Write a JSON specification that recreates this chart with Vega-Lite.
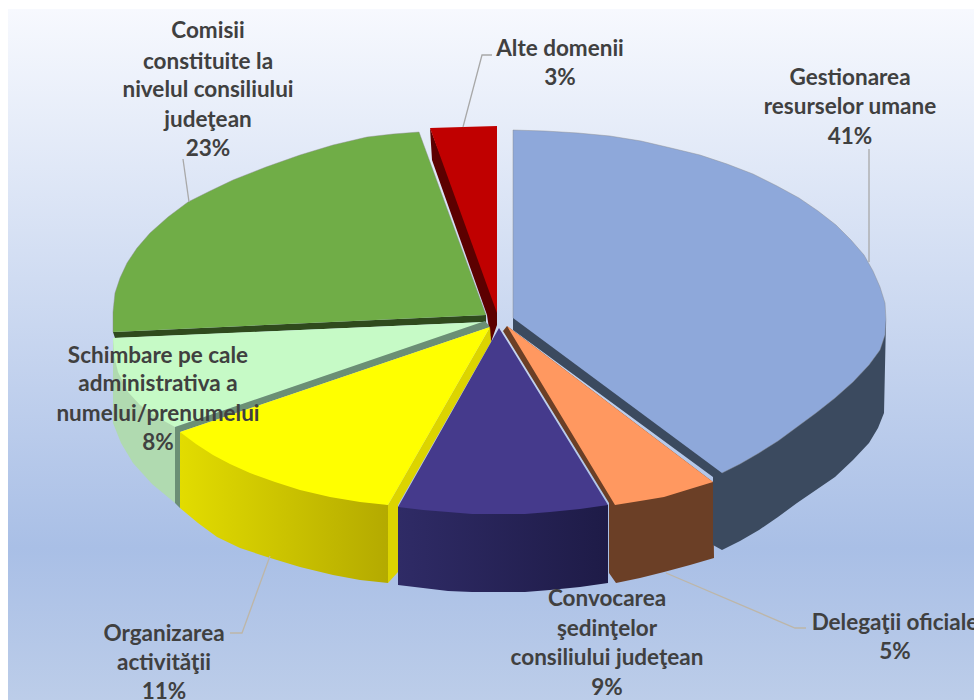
{"$schema":"https://vega.github.io/schema/vega-lite/v6.json","width":966,"height":691,"autosize":"none","padding":{"left":8,"top":9,"right":0,"bottom":0},"background":"white","view":{"stroke":null,"fill":{"gradient":"linear","x1":0,"y1":0,"x2":0,"y2":1,"stops":[{"offset":0,"color":"#f7f9fe"},{"offset":0.78,"color":"#a9bfe6"},{"offset":1,"color":"#bccde9"}]}},
"datasets":{"faces":[
{"part":"Alte side","i":1,"x":430,"y":128},{"part":"Alte side","i":2,"x":432,"y":160},{"part":"Alte side","i":3,"x":487,"y":315},{"part":"Alte side","i":4,"x":491,"y":342},{"part":"Alte side","i":5,"x":497,"y":325},{"part":"Alte side","i":6,"x":497,"y":300},
{"part":"Alte top","i":1,"x":430,"y":128},{"part":"Alte top","i":2,"x":463,"y":127},{"part":"Alte top","i":3,"x":497,"y":126},{"part":"Alte top","i":4,"x":497,"y":313},
{"part":"Comisii strip","i":1,"x":113,"y":332},{"part":"Comisii strip","i":2,"x":486,"y":315},{"part":"Comisii strip","i":3,"x":486,"y":322},{"part":"Comisii strip","i":4,"x":115,"y":338},
{"part":"Comisii top","i":1,"x":486,"y":315},{"part":"Comisii top","i":2,"x":419,"y":132},{"part":"Comisii top","i":3,"x":393,"y":134},{"part":"Comisii top","i":4,"x":367,"y":137},{"part":"Comisii top","i":5,"x":333,"y":145},{"part":"Comisii top","i":6,"x":300,"y":155},{"part":"Comisii top","i":7,"x":266,"y":167},{"part":"Comisii top","i":8,"x":233,"y":180},{"part":"Comisii top","i":9,"x":210,"y":191},{"part":"Comisii top","i":10,"x":188,"y":202},{"part":"Comisii top","i":11,"x":168,"y":217},{"part":"Comisii top","i":12,"x":150,"y":233},{"part":"Comisii top","i":13,"x":137,"y":248},{"part":"Comisii top","i":14,"x":127,"y":263},{"part":"Comisii top","i":15,"x":120,"y":278},{"part":"Comisii top","i":16,"x":115,"y":293},{"part":"Comisii top","i":17,"x":113,"y":312},{"part":"Comisii top","i":18,"x":113,"y":332},
{"part":"Schimbare side","i":1,"x":113,"y":338},{"part":"Schimbare side","i":2,"x":113,"y":423},{"part":"Schimbare side","i":3,"x":121,"y":443},{"part":"Schimbare side","i":4,"x":133,"y":463},{"part":"Schimbare side","i":5,"x":152,"y":484},{"part":"Schimbare side","i":6,"x":175,"y":503},{"part":"Schimbare side","i":7,"x":175,"y":427},
{"part":"Schimbare top","i":1,"x":485,"y":322},{"part":"Schimbare top","i":2,"x":113,"y":338},{"part":"Schimbare top","i":3,"x":114,"y":355},{"part":"Schimbare top","i":4,"x":118,"y":372},{"part":"Schimbare top","i":5,"x":128,"y":392},{"part":"Schimbare top","i":6,"x":140,"y":405},{"part":"Schimbare top","i":7,"x":157,"y":417},{"part":"Schimbare top","i":8,"x":175,"y":427},
{"part":"Schimbare strip","i":1,"x":485,"y":321},{"part":"Schimbare strip","i":2,"x":175,"y":427},{"part":"Schimbare strip","i":3,"x":175,"y":503},{"part":"Schimbare strip","i":4,"x":180,"y":508},{"part":"Schimbare strip","i":5,"x":180,"y":432},{"part":"Schimbare strip","i":6,"x":490,"y":327},
{"part":"Organizarea side","i":1,"x":180,"y":432},{"part":"Organizarea side","i":2,"x":180,"y":508},{"part":"Organizarea side","i":3,"x":198,"y":523},{"part":"Organizarea side","i":4,"x":217,"y":537},{"part":"Organizarea side","i":5,"x":240,"y":548},{"part":"Organizarea side","i":6,"x":267,"y":557},{"part":"Organizarea side","i":7,"x":300,"y":567},{"part":"Organizarea side","i":8,"x":333,"y":575},{"part":"Organizarea side","i":9,"x":360,"y":580},{"part":"Organizarea side","i":10,"x":388,"y":583},{"part":"Organizarea side","i":11,"x":388,"y":505},
{"part":"Organizarea strip","i":1,"x":490,"y":327},{"part":"Organizarea strip","i":2,"x":491,"y":342},{"part":"Organizarea strip","i":3,"x":398,"y":505},{"part":"Organizarea strip","i":4,"x":398,"y":572},{"part":"Organizarea strip","i":5,"x":388,"y":583},{"part":"Organizarea strip","i":6,"x":388,"y":505},
{"part":"Organizarea top","i":1,"x":490,"y":327},{"part":"Organizarea top","i":2,"x":180,"y":432},{"part":"Organizarea top","i":3,"x":196,"y":444},{"part":"Organizarea top","i":4,"x":213,"y":455},{"part":"Organizarea top","i":5,"x":230,"y":464},{"part":"Organizarea top","i":6,"x":250,"y":473},{"part":"Organizarea top","i":7,"x":275,"y":482},{"part":"Organizarea top","i":8,"x":300,"y":490},{"part":"Organizarea top","i":9,"x":330,"y":497},{"part":"Organizarea top","i":10,"x":360,"y":502},{"part":"Organizarea top","i":11,"x":388,"y":505},
{"part":"Convocarea side","i":1,"x":398,"y":507},{"part":"Convocarea side","i":2,"x":398,"y":585},{"part":"Convocarea side","i":3,"x":423,"y":588},{"part":"Convocarea side","i":4,"x":448,"y":591},{"part":"Convocarea side","i":5,"x":472,"y":592},{"part":"Convocarea side","i":6,"x":497,"y":592},{"part":"Convocarea side","i":7,"x":525,"y":592},{"part":"Convocarea side","i":8,"x":550,"y":590},{"part":"Convocarea side","i":9,"x":580,"y":587},{"part":"Convocarea side","i":10,"x":608,"y":583},{"part":"Convocarea side","i":11,"x":608,"y":505},
{"part":"Convocarea top","i":1,"x":499,"y":328},{"part":"Convocarea top","i":2,"x":398,"y":507},{"part":"Convocarea top","i":3,"x":423,"y":510},{"part":"Convocarea top","i":4,"x":448,"y":512},{"part":"Convocarea top","i":5,"x":472,"y":514},{"part":"Convocarea top","i":6,"x":497,"y":514},{"part":"Convocarea top","i":7,"x":525,"y":514},{"part":"Convocarea top","i":8,"x":550,"y":512},{"part":"Convocarea top","i":9,"x":580,"y":509},{"part":"Convocarea top","i":10,"x":608,"y":505},
{"part":"Delegatii side","i":1,"x":503,"y":331},{"part":"Delegatii side","i":2,"x":609,"y":503},{"part":"Delegatii side","i":3,"x":609,"y":573},{"part":"Delegatii side","i":4,"x":616,"y":583},{"part":"Delegatii side","i":5,"x":640,"y":578},{"part":"Delegatii side","i":6,"x":664,"y":572},{"part":"Delegatii side","i":7,"x":690,"y":565},{"part":"Delegatii side","i":8,"x":714,"y":558},{"part":"Delegatii side","i":9,"x":713,"y":482},{"part":"Delegatii side","i":10,"x":507,"y":326},
{"part":"Delegatii top","i":1,"x":507,"y":326},{"part":"Delegatii top","i":2,"x":615,"y":505},{"part":"Delegatii top","i":3,"x":640,"y":501},{"part":"Delegatii top","i":4,"x":664,"y":497},{"part":"Delegatii top","i":5,"x":690,"y":489},{"part":"Delegatii top","i":6,"x":713,"y":482},
{"part":"Gestionarea side","i":1,"x":513,"y":318},{"part":"Gestionarea side","i":2,"x":513,"y":330},{"part":"Gestionarea side","i":3,"x":713,"y":477},{"part":"Gestionarea side","i":4,"x":713,"y":545},{"part":"Gestionarea side","i":5,"x":722,"y":550},{"part":"Gestionarea side","i":6,"x":740,"y":541},{"part":"Gestionarea side","i":7,"x":759,"y":530},{"part":"Gestionarea side","i":8,"x":778,"y":517},{"part":"Gestionarea side","i":9,"x":797,"y":503},{"part":"Gestionarea side","i":10,"x":816,"y":490},{"part":"Gestionarea side","i":11,"x":835,"y":477},{"part":"Gestionarea side","i":12,"x":853,"y":460},{"part":"Gestionarea side","i":13,"x":869,"y":443},{"part":"Gestionarea side","i":14,"x":878,"y":428},{"part":"Gestionarea side","i":15,"x":884,"y":413},{"part":"Gestionarea side","i":16,"x":886,"y":320},
{"part":"Gestionarea top","i":1,"x":513,"y":318},{"part":"Gestionarea top","i":2,"x":513,"y":130},{"part":"Gestionarea top","i":3,"x":545,"y":131},{"part":"Gestionarea top","i":4,"x":578,"y":133},{"part":"Gestionarea top","i":5,"x":610,"y":136},{"part":"Gestionarea top","i":6,"x":641,"y":141},{"part":"Gestionarea top","i":7,"x":671,"y":148},{"part":"Gestionarea top","i":8,"x":700,"y":155},{"part":"Gestionarea top","i":9,"x":727,"y":164},{"part":"Gestionarea top","i":10,"x":753,"y":174},{"part":"Gestionarea top","i":11,"x":777,"y":186},{"part":"Gestionarea top","i":12,"x":799,"y":198},{"part":"Gestionarea top","i":13,"x":818,"y":211},{"part":"Gestionarea top","i":14,"x":836,"y":225},{"part":"Gestionarea top","i":15,"x":851,"y":240},{"part":"Gestionarea top","i":16,"x":864,"y":255},{"part":"Gestionarea top","i":17,"x":873,"y":271},{"part":"Gestionarea top","i":18,"x":880,"y":287},{"part":"Gestionarea top","i":19,"x":885,"y":303},{"part":"Gestionarea top","i":20,"x":886,"y":320},{"part":"Gestionarea top","i":21,"x":885,"y":335},{"part":"Gestionarea top","i":22,"x":880,"y":350},{"part":"Gestionarea top","i":23,"x":869,"y":365},{"part":"Gestionarea top","i":24,"x":853,"y":382},{"part":"Gestionarea top","i":25,"x":835,"y":398},{"part":"Gestionarea top","i":26,"x":816,"y":413},{"part":"Gestionarea top","i":27,"x":797,"y":427},{"part":"Gestionarea top","i":28,"x":778,"y":441},{"part":"Gestionarea top","i":29,"x":759,"y":453},{"part":"Gestionarea top","i":30,"x":740,"y":464},{"part":"Gestionarea top","i":31,"x":722,"y":473}
],
"leaders":[
{"to":"Alte domenii","i":1,"x":463,"y":127},{"to":"Alte domenii","i":2,"x":482,"y":55},{"to":"Alte domenii","i":3,"x":492,"y":55},
{"to":"Gestionarea","i":1,"x":869,"y":149},{"to":"Gestionarea","i":2,"x":869,"y":262},
{"to":"Comisii","i":1,"x":183,"y":159},{"to":"Comisii","i":2,"x":189,"y":202},
{"to":"Organizarea","i":1,"x":270,"y":556},{"to":"Organizarea","i":2,"x":242,"y":633},{"to":"Organizarea","i":3,"x":230,"y":633},
{"to":"Delegatii","i":1,"x":666,"y":573},{"to":"Delegatii","i":2,"x":795,"y":628},{"to":"Delegatii","i":3,"x":806,"y":628}
],
"labels":[
{"t":"Comisii","x":208,"y":31},{"t":"constituite la","x":208,"y":62},{"t":"nivelul consiliului","x":208,"y":90},{"t":"judeţean","x":208,"y":120},{"t":"23%","x":208,"y":149},
{"t":"Alte domenii","x":560,"y":49},{"t":"3%","x":560,"y":78},
{"t":"Gestionarea","x":850,"y":78},{"t":"resurselor umane","x":850,"y":107},{"t":"41%","x":850,"y":137},
{"t":"Schimbare pe cale","x":158,"y":356},{"t":"administrativa a","x":158,"y":384},{"t":"numelui/prenumelui","x":158,"y":414},{"t":"8%","x":158,"y":443},
{"t":"Organizarea","x":164,"y":634},{"t":"activităţii","x":164,"y":663},{"t":"11%","x":164,"y":692},
{"t":"Convocarea","x":607,"y":599},{"t":"şedinţelor","x":607,"y":629},{"t":"consiliului judeţean","x":607,"y":658},{"t":"9%","x":607,"y":688},
{"t":"Delegaţii oficiale","x":895,"y":623},{"t":"5%","x":895,"y":652}
]},
"data":{"name":"faces"},
"encoding":{"x":{"field":"x","type":"quantitative","axis":null,"scale":{"domain":[8,974],"nice":false,"zero":false}},"y":{"field":"y","type":"quantitative","axis":null,"scale":{"domain":[700,9],"nice":false,"zero":false}}},
"layer":[
{"transform":[{"filter":{"field":"part","oneOf":["Alte side","Alte top","Comisii strip","Schimbare side","Schimbare top","Schimbare strip"]}}],"mark":{"type":"line","filled":true,"strokeWidth":0},"encoding":{"order":{"field":"i","type":"quantitative"},"color":{"field":"part","type":"nominal","legend":null,"sort":null,"scale":{"domain":["Alte side","Alte top","Comisii strip","Comisii top","Schimbare side","Schimbare top","Schimbare strip","Organizarea strip","Organizarea top","Convocarea top","Delegatii side","Delegatii top","Gestionarea side","Gestionarea top"],"range":["#5c0000","#c00000","#2f4a1d","#70ad47","#b0dab0","#c6fac6","#6b8f75","#dcd400","#ffff00","#453a8c","#6b3f26","#ff9860","#3b4a5f","#8ea8da"]}}}},
{"transform":[{"filter":"datum.part==='Comisii top'"}],"mark":{"type":"line","filled":true,"stroke":"#8a8a8a","strokeWidth":0.7,"strokeOpacity":0.6},"encoding":{"order":{"field":"i","type":"quantitative"},"color":{"field":"part","type":"nominal","legend":null,"sort":null}}},
{"transform":[{"filter":"datum.part==='Organizarea side'"}],"mark":{"type":"line","filled":true,"strokeWidth":0,"fill":{"gradient":"linear","x1":0,"y1":0,"x2":1,"y2":0,"stops":[{"offset":0,"color":"#e2dc00"},{"offset":1,"color":"#b4aa00"}]}},"encoding":{"order":{"field":"i","type":"quantitative"}}},
{"transform":[{"filter":{"field":"part","oneOf":["Organizarea strip","Organizarea top"]}}],"mark":{"type":"line","filled":true,"strokeWidth":0},"encoding":{"order":{"field":"i","type":"quantitative"},"color":{"field":"part","type":"nominal","legend":null,"sort":null}}},
{"transform":[{"filter":"datum.part==='Convocarea side'"}],"mark":{"type":"line","filled":true,"strokeWidth":0,"fill":{"gradient":"linear","x1":0,"y1":0,"x2":1,"y2":0,"stops":[{"offset":0,"color":"#2f2b66"},{"offset":1,"color":"#1e1b47"}]}},"encoding":{"order":{"field":"i","type":"quantitative"}}},
{"transform":[{"filter":{"field":"part","oneOf":["Convocarea top","Delegatii side","Delegatii top","Gestionarea side"]}}],"mark":{"type":"line","filled":true,"strokeWidth":0},"encoding":{"order":{"field":"i","type":"quantitative"},"color":{"field":"part","type":"nominal","legend":null,"sort":null}}},
{"transform":[{"filter":"datum.part==='Gestionarea top'"}],"mark":{"type":"line","filled":true,"stroke":"#8a8a8a","strokeWidth":0.7,"strokeOpacity":0.6},"encoding":{"order":{"field":"i","type":"quantitative"},"color":{"field":"part","type":"nominal","legend":null,"sort":null}}},
{"data":{"name":"leaders"},"transform":[{"filter":{"field":"to","oneOf":["Alte domenii","Gestionarea","Comisii"]}}],"mark":{"type":"line","stroke":"#a8a8a8","strokeWidth":1.3},"encoding":{"detail":{"field":"to"},"order":{"field":"i","type":"quantitative"}}},
{"data":{"name":"leaders"},"transform":[{"filter":{"field":"to","oneOf":["Organizarea","Delegatii"]}}],"mark":{"type":"line","stroke":"#bdb6a8","strokeWidth":1.3},"encoding":{"detail":{"field":"to"},"order":{"field":"i","type":"quantitative"}}},
{"data":{"name":"labels"},"mark":{"type":"text","font":"Lato","fontWeight":"bold","fontSize":22.5,"color":"#404040","align":"center","baseline":"middle","clip":false},"encoding":{"text":{"field":"t"}}}
]}
